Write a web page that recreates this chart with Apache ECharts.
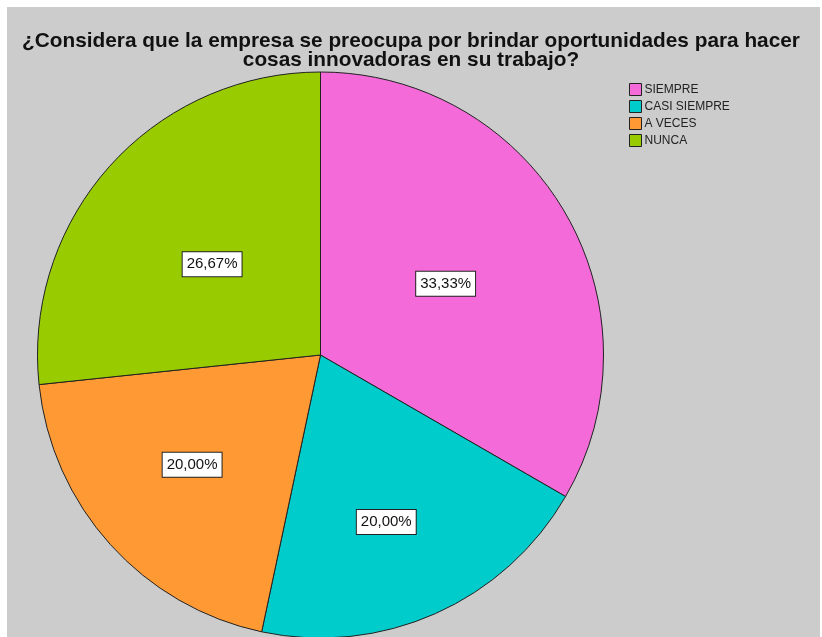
<!DOCTYPE html>
<html>
<head>
<meta charset="utf-8">
<script src="https://cdn.jsdelivr.net/npm/echarts@6/dist/echarts.min.js"></script>
<style>
html,body{margin:0;padding:0;background:#ffffff;}
#chart{width:822px;height:637px;}
</style>
</head>
<body>
<div id="chart"></div>
<script>
const categories = ['SIEMPRE', 'CASI SIEMPRE', 'A VECES', 'NUNCA'];
const values = [5, 3, 3, 4];
const colors = ['#f46ad9', '#00cccc', '#ff9933', '#99cc00'];
const titleText = '¿Considera que la empresa se preocupa por brindar oportunidades para hacer\ncosas innovadoras en su trabajo?';
// label nudges (styling only), in pixels
const labelOffsets = [[0, 1], [7, 35], [-21, 13], [-1, 6]];

const total = values.reduce((a, b) => a + b, 0);
const chart = echarts.init(document.getElementById('chart'));
chart.setOption({
  animation: false,
  backgroundColor: '#ffffff',
  graphic: [{
    type: 'rect', z: -10, silent: true,
    shape: { x: 7, y: 7, width: 813, height: 630 },
    style: { fill: '#cccccc' }
  }],
  title: {
    text: titleText,
    left: 'center',
    top: 27,
    padding: [5, 0, 5, 10],
    textStyle: {
      fontFamily: 'Liberation Sans, Arial, sans-serif',
      fontSize: 20.8, fontWeight: 'bold', color: '#111111', lineHeight: 19
    }
  },
  legend: {
    orient: 'vertical',
    left: 624, top: 78,
    itemWidth: 12, itemHeight: 12, itemGap: 4,
    icon: 'rect',
    data: categories,
    itemStyle: { borderColor: '#222222', borderWidth: 1 },
    textStyle: { fontFamily: 'Liberation Sans, Arial, sans-serif', fontSize: 12, color: '#222222', padding: [0, 0, 0, -2] }
  },
  series: [{
    type: 'pie',
    center: [320.5, 355],
    radius: [0, 283],
    startAngle: 90,
    clockwise: true,
    data: categories.map((c, i) => ({
      name: c, value: values[i],
      itemStyle: { color: colors[i] },
      label: { offset: labelOffsets[i] }
    })),
    itemStyle: { borderColor: '#222222', borderWidth: 1 },
    label: {
      show: true,
      position: 'inside',
      formatter: p => (p.value / total * 100).toFixed(2).replace('.', ',') + '%',
      fontFamily: 'Liberation Sans, Arial, sans-serif',
      fontSize: 15,
      color: '#111111',
      backgroundColor: '#ffffff',
      borderColor: '#222222',
      borderWidth: 1,
      padding: [5, 4, 4, 4]
    },
    labelLine: { show: false },
    emphasis: { disabled: true }
  }]
});
</script>
</body>
</html>
